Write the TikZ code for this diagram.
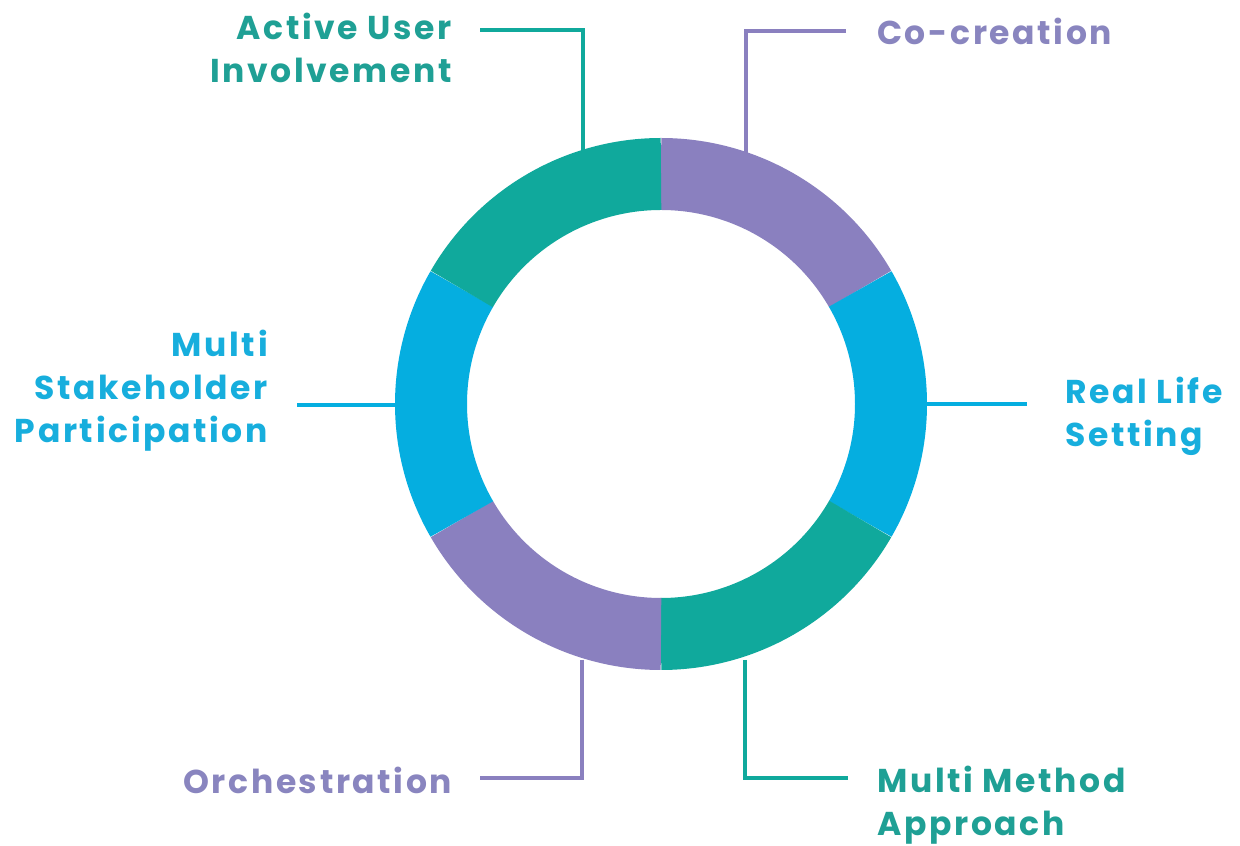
\documentclass[tikz,border=0pt]{standalone}
\usepackage{fontspec}
\setmainfont{Poppins}[LetterSpace=8]
\definecolor{ringteal}{HTML}{10A99C}
\definecolor{ringpurple}{HTML}{8A80BF}
\definecolor{ringblue}{HTML}{05AEE0}
\definecolor{txtteal}{HTML}{1FA095}
\definecolor{txtpurple}{HTML}{8985BF}
\definecolor{txtblue}{HTML}{17AEDD}
\begin{document}
\begin{tikzpicture}[x=1pt,y=1pt,
  seg/.style={line width=72pt},
  conn/.style={line width=3.5pt},
  lbl/.style={font=\fontsize{33}{43}\selectfont\bfseries, inner sep=0pt}]
\useasboundingbox (0,0) rectangle (1240,846);
\fill[white] (0,0) rectangle (1240,846);
\coordinate (c) at (661,442);
% connector coordinates
\coordinate (au1) at (583,686); \coordinate (au2) at (480,816);
\coordinate (co1) at (746,686); \coordinate (co2) at (846,815);
\coordinate (ms1) at (400,441); \coordinate (ms2) at (297,441);
\coordinate (rl1) at (922,442); \coordinate (rl2) at (1027,442);
\coordinate (or1) at (582,186); \coordinate (or2) at (480,68);
\coordinate (mm1) at (745,186); \coordinate (mm2) at (848,68);
\draw[conn,ringteal] (au1) |- (au2);
\draw[conn,ringpurple] (co1) |- (co2);
\draw[conn,ringblue] (ms1) -- (ms2);
\draw[conn,ringblue] (rl1) -- (rl2);
\draw[conn,ringpurple] (or1) |- (or2);
\draw[conn,ringteal] (mm1) |- (mm2);
% ring
\draw[seg,ringpurple] (c) ++(90:230) arc[start angle=90,end angle=30,radius=230];
\draw[seg,ringblue] (c) ++(30:230) arc[start angle=30,end angle=-30,radius=230];
\draw[seg,ringteal] (c) ++(-30:230) arc[start angle=-30,end angle=-90,radius=230];
\draw[seg,ringpurple] (c) ++(-90:230) arc[start angle=-90,end angle=-150,radius=230];
\draw[seg,ringblue] (c) ++(-150:230) arc[start angle=-150,end angle=-210,radius=230];
\draw[seg,ringteal] (c) ++(150:230) arc[start angle=150,end angle=90,radius=230];
% labels
\node[lbl,txtteal,anchor=north east,align=right] (au) at (452,833) {Active User\\Involvement};
\node[lbl,txtpurple,anchor=north west] (co) at (877,828) {Co-creation};
\node[lbl,txtblue,anchor=north east,align=right] (ms) at (268,516) {Multi\\Stakeholder\\Participation};
\node[lbl,txtblue,anchor=north west,align=left] (rl) at (1065,469) {Real Life\\Setting};
\node[lbl,txtpurple,anchor=north west] (or) at (183,79) {Orchestration};
\node[lbl,txtteal,anchor=north west,align=left] (mm) at (877,80) {Multi Method\\Approach};
\end{tikzpicture}
\end{document}
